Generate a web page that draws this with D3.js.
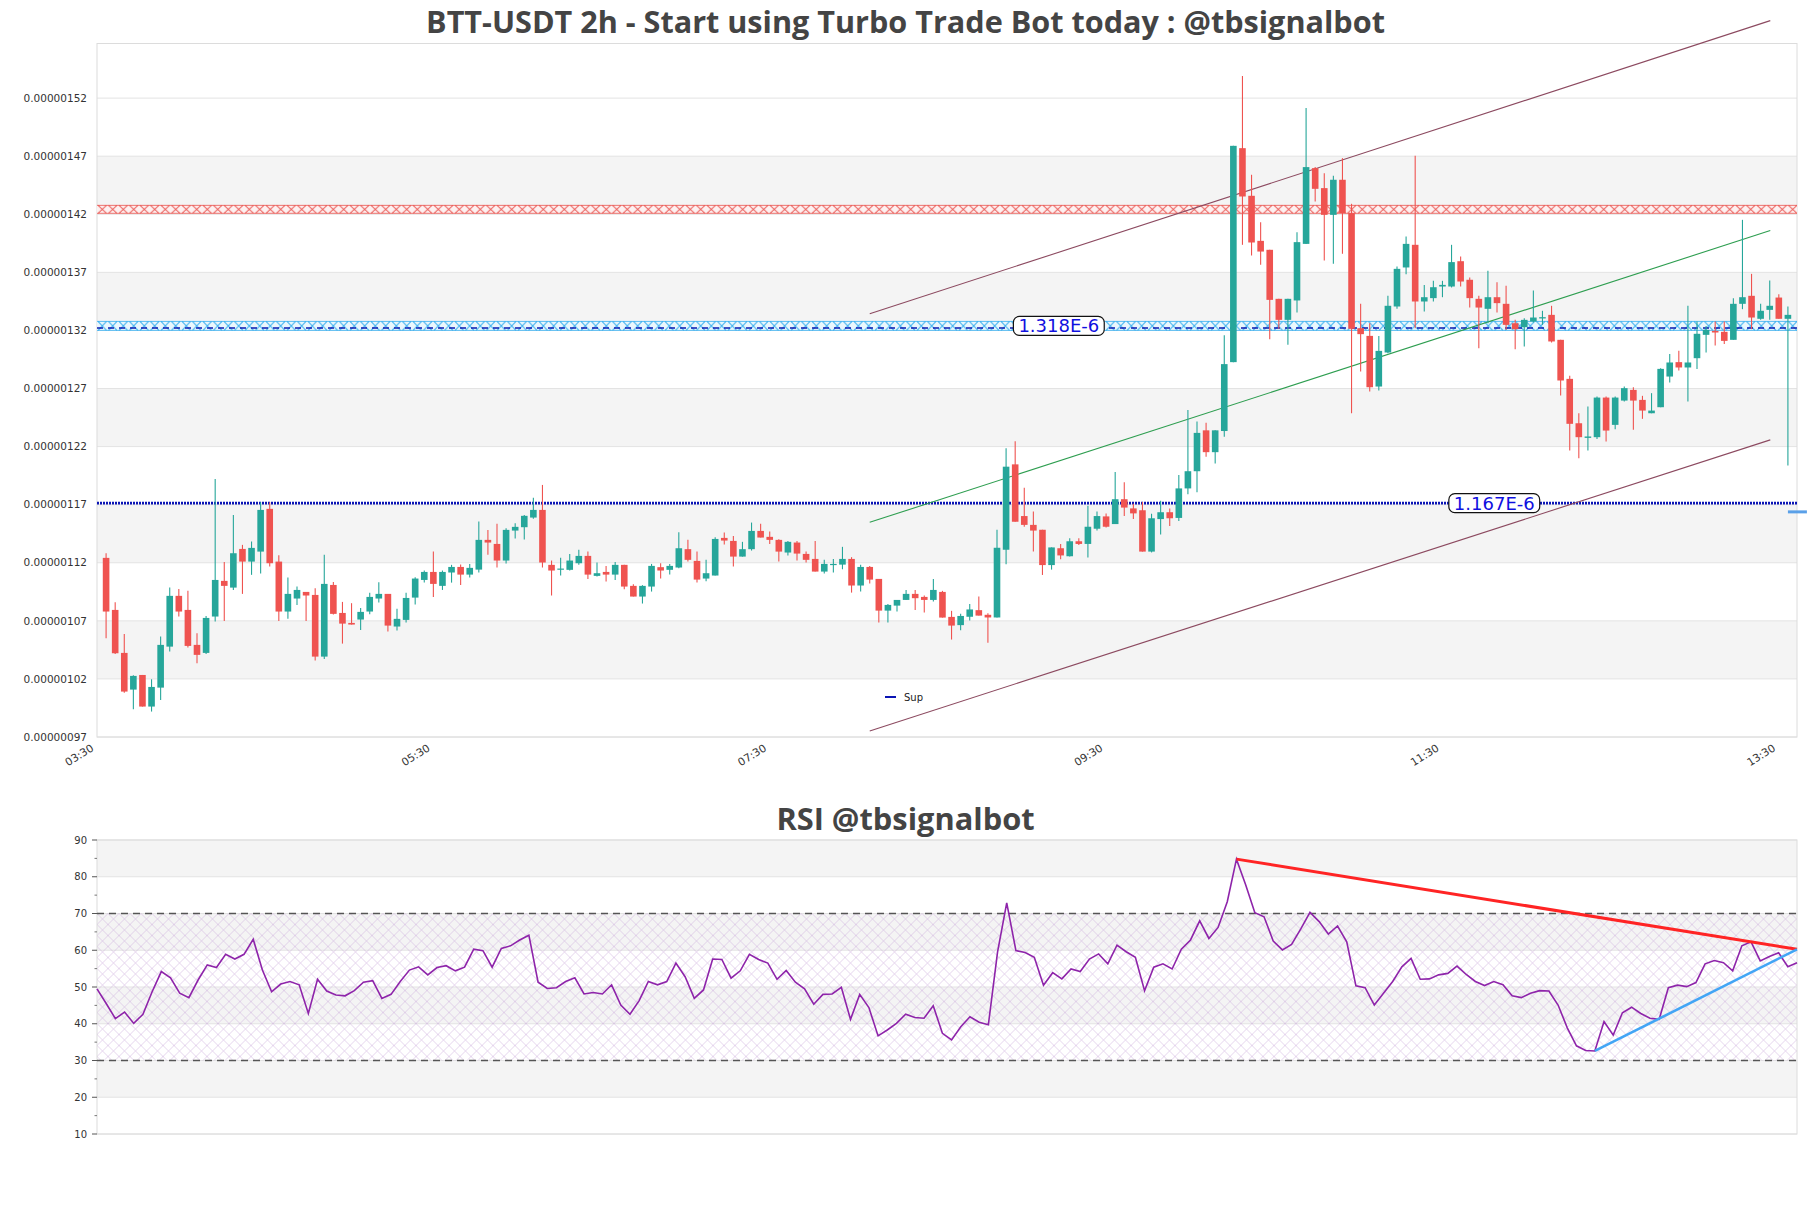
<!DOCTYPE html>
<html><head><meta charset="utf-8">
<script src="https://cdn.jsdelivr.net/npm/d3@7"></script>
<style>
body{margin:0;background:#fff}
svg{display:block}
</style>
</head><body>
<svg id="c" width="1811" height="1208"></svg>
<script>
// ---------------- DATA ----------------
const UNIT = 1e-9; // candle values are stored in units of 1e-9 USDT
const opens = [1124.2,1079.4,1042.4,1010.8,1023.4,996.2,1012.5,1047.8,1091.5,1079.4,1049.3,1042.4,1073.7,1104.4,1098.6,1131.9,1121.0,1129.6,1166.4,1121.0,1078.0,1089.2,1094.9,1092.3,1039.2,1100.9,1076.8,1068.2,1071.1,1078.0,1089.2,1093.2,1065.1,1070.8,1090.0,1105.2,1112.1,1100.1,1111.6,1116.4,1109.8,1114.1,1139.7,1136.2,1121.9,1147.7,1150.6,1158.9,1165.5,1118.2,1114.1,1113.9,1119.6,1125.9,1108.7,1112.1,1109.8,1118.2,1100.1,1090.9,1099.5,1116.2,1113.9,1115.9,1131.7,1121.6,1106.4,1109.0,1141.4,1138.8,1125.3,1131.7,1147.4,1142.3,1139.7,1128.8,1137.4,1127.6,1123.3,1112.4,1118.4,1118.4,1123.3,1100.4,1116.4,1106.1,1078.8,1083.1,1088.0,1093.2,1090.6,1088.0,1094.9,1073.4,1066.3,1073.5,1079.2,1075.2,1072.9,1131.2,1204.7,1160.2,1152.6,1148.4,1118.0,1132.5,1125.6,1138.5,1136.2,1149.3,1159.9,1153.3,1174.7,1166.8,1165.2,1129.6,1157.6,1163.5,1158.6,1184.0,1198.8,1234.0,1215.2,1233.4,1292.7,1476.9,1435.9,1397.1,1389.4,1347.2,1329.1,1345.8,1394.5,1459.7,1442.5,1419.5,1449.7,1421.0,1321.9,1315.3,1271.7,1301.0,1340.6,1374.2,1393.7,1344.9,1347.8,1357.8,1357.8,1379.6,1363.6,1347.2,1338.6,1348.6,1342.9,1326.2,1322.8,1327.7,1330.3,1333.4,1311.9,1278.3,1240.1,1227.5,1228.1,1262.2,1238.7,1259.6,1268.8,1260.2,1248.7,1253.9,1280.3,1292.7,1288.1,1296.1,1316.2,1319.6,1318.8,1311.9,1342.9,1349.8,1330.0,1337.7,1348.3,1330.0];
const highs = [1128.2,1086.0,1058.7,1023.2,1023.4,1019.7,1056.5,1098.6,1097.5,1095.8,1059.3,1074.2,1192.2,1120.7,1161.2,1135.4,1138.3,1172.1,1172.1,1126.5,1107.3,1099.5,1094.9,1098.1,1126.8,1103.5,1086.3,1085.2,1081.1,1094.1,1103.2,1093.2,1080.3,1094.1,1107.5,1113.3,1129.6,1113.3,1118.2,1118.4,1119.0,1155.5,1148.3,1153.5,1149.7,1154.0,1161.2,1175.9,1187.0,1121.9,1124.2,1127.6,1131.1,1129.6,1120.2,1117.3,1120.7,1118.2,1101.5,1100.7,1119.0,1119.6,1119.0,1146.3,1139.7,1129.6,1122.5,1142.0,1146.0,1143.1,1138.0,1154.6,1153.5,1146.9,1140.3,1138.8,1138.8,1129.6,1138.8,1122.5,1123.3,1133.7,1124.8,1118.2,1117.3,1106.1,1084.6,1088.0,1096.6,1096.6,1091.8,1106.1,1095.8,1078.6,1076.2,1084.4,1091.0,1076.5,1148.4,1218.5,1224.5,1184.6,1164.2,1148.4,1133.2,1136.2,1141.1,1141.1,1169.1,1164.2,1162.5,1198.1,1189.2,1170.8,1172.4,1162.2,1173.4,1166.8,1195.5,1251.5,1241.6,1240.6,1234.0,1315.8,1478.9,1539.0,1454.0,1413.2,1389.4,1347.2,1347.2,1404.6,1511.4,1460.6,1455.4,1453.1,1468.3,1429.0,1342.9,1326.2,1315.3,1349.8,1375.0,1400.9,1470.3,1359.2,1362.7,1362.7,1393.7,1383.6,1365.6,1349.8,1371.3,1361.5,1358.4,1329.1,1330.5,1354.4,1336.9,1341.2,1311.9,1280.9,1248.7,1254.5,1263.1,1263.1,1263.1,1271.7,1271.1,1263.7,1266.0,1287.5,1299.8,1302.4,1341.2,1327.7,1323.9,1327.7,1327.7,1347.8,1415.2,1368.7,1342.9,1363.0,1351.2,1340.6];
const lows = [1055.0,1041.5,1008.2,993.9,996.2,991.9,1001.9,1043.5,1073.7,1047.0,1033.5,1041.5,1069.4,1069.9,1096.6,1093.2,1109.6,1110.7,1116.7,1069.9,1071.7,1083.7,1069.9,1035.8,1037.2,1075.4,1050.4,1066.8,1062.2,1075.7,1085.7,1060.8,1061.6,1068.5,1084.0,1102.9,1090.6,1096.6,1102.9,1100.9,1107.3,1111.6,1126.8,1115.9,1119.3,1140.8,1140.0,1157.8,1115.9,1091.8,1109.0,1113.3,1118.2,1106.1,1108.1,1103.8,1105.2,1097.2,1090.9,1084.9,1095.2,1106.4,1109.8,1115.3,1121.0,1102.9,1104.1,1109.0,1135.7,1116.7,1125.3,1130.5,1141.7,1136.2,1121.0,1126.2,1121.9,1120.2,1112.4,1110.7,1111.6,1114.4,1094.3,1095.2,1102.1,1068.5,1068.5,1078.0,1088.0,1079.4,1077.1,1086.6,1072.8,1053.9,1062.0,1070.2,1074.5,1051.2,1072.9,1118.7,1155.3,1151.0,1129.6,1109.5,1114.1,1123.0,1125.3,1135.2,1124.6,1147.7,1150.3,1153.3,1160.2,1157.6,1129.6,1128.9,1144.4,1151.6,1155.9,1179.0,1180.6,1211.3,1205.4,1228.4,1292.7,1393.7,1384.5,1376.5,1312.5,1321.4,1307.6,1335.4,1394.5,1431.0,1380.3,1377.4,1386.0,1248.7,1284.6,1267.4,1268.3,1300.4,1338.6,1368.4,1321.9,1336.3,1344.9,1348.6,1357.0,1357.8,1339.7,1304.7,1326.2,1335.4,1320.5,1303.9,1306.1,1326.8,1324.8,1309.6,1264.0,1216.6,1210.0,1216.6,1226.6,1224.4,1235.0,1258.8,1234.4,1243.9,1248.7,1253.9,1275.2,1285.5,1258.8,1286.9,1301.0,1307.0,1308.4,1311.9,1338.3,1321.1,1329.1,1329.1,1330.0,1203.7];
const closes = [1078.0,1042.1,1009.1,1022.6,996.2,1013.1,1049.3,1091.5,1078.0,1048.4,1040.7,1072.5,1105.2,1100.1,1128.2,1121.0,1132.8,1165.5,1119.6,1078.0,1093.2,1096.6,1091.8,1039.2,1101.8,1076.0,1067.6,1066.8,1077.7,1090.6,1093.2,1065.9,1071.7,1089.7,1106.4,1112.1,1101.8,1112.1,1116.4,1109.8,1115.6,1139.7,1137.4,1121.9,1148.3,1150.9,1160.4,1165.5,1120.2,1113.3,1115.0,1121.9,1125.9,1109.8,1111.0,1109.8,1118.2,1099.5,1090.9,1100.1,1117.3,1113.3,1117.3,1132.5,1122.5,1105.5,1111.0,1140.5,1139.1,1125.3,1131.7,1147.4,1141.7,1139.7,1129.6,1138.0,1127.9,1122.5,1112.4,1119.0,1119.0,1123.3,1100.4,1116.4,1105.5,1078.8,1083.7,1088.0,1093.2,1089.5,1088.0,1096.6,1072.8,1065.9,1074.2,1079.8,1074.5,1072.9,1132.9,1202.7,1155.3,1152.6,1147.7,1118.0,1133.2,1126.3,1138.5,1136.2,1151.0,1160.2,1151.0,1174.7,1167.5,1162.5,1129.6,1158.3,1163.5,1158.3,1184.0,1198.8,1231.8,1215.2,1234.0,1291.0,1478.9,1435.3,1395.7,1387.9,1346.3,1329.1,1347.2,1396.0,1460.6,1441.9,1419.5,1449.7,1421.0,1321.4,1316.8,1271.1,1302.4,1341.2,1373.0,1394.5,1344.9,1348.6,1357.2,1359.2,1378.8,1362.1,1347.8,1339.7,1348.6,1343.5,1324.8,1321.1,1329.1,1331.1,1331.4,1310.5,1276.9,1239.6,1228.1,1228.7,1262.2,1233.8,1262.2,1270.3,1259.6,1251.0,1251.0,1286.9,1292.4,1288.1,1292.4,1317.1,1320.5,1318.2,1311.0,1342.9,1348.6,1331.1,1336.9,1341.2,1330.0,1333.4];

const rsiValues = [49.5,45.5,41.4,43.2,40.1,42.6,48.7,54.2,52.5,48.3,
47.1,51.9,56.0,55.3,58.9,57.6,58.9,63.0,54.6,48.7,
50.8,51.5,50.6,42.8,52.1,48.9,47.8,47.6,49.0,51.3,
51.7,46.9,48.0,51.5,54.6,55.5,53.3,55.3,55.8,54.4,
55.4,60.3,59.9,55.4,60.5,61.2,62.8,64.1,51.3,49.6,
49.8,51.5,52.5,48.1,48.5,48.1,50.6,45.1,42.6,46.3,
51.5,50.6,51.5,56.5,52.8,46.9,49.2,57.6,57.5,52.4,
54.4,58.9,57.5,56.5,52.1,54.5,51.3,49.5,45.3,48.0,
48.1,49.9,41.2,48.0,44.4,36.7,38.3,40.1,42.6,41.7,
41.5,44.9,37.4,35.6,39.2,41.9,40.4,39.7,59.5,72.9,
59.9,59.4,58.1,50.5,53.9,52.2,54.9,54.2,57.6,59.0,
56.3,61.4,59.6,58.1,49.0,55.4,56.3,54.9,60.3,62.8,
68.0,63.2,66.2,73.2,84.8,77.8,70.2,69.1,62.5,60.1,
61.6,65.8,70.3,67.8,64.4,66.6,62.3,50.3,49.8,45.1,
48.3,51.5,55.5,57.8,52.1,52.2,53.3,53.7,55.7,53.4,
51.5,50.4,51.5,50.6,47.6,47.1,48.3,49.0,48.9,45.1,
38.9,34.0,32.7,32.6,40.6,36.9,43.0,44.5,42.8,41.5,
41.2,49.8,50.5,50.1,51.2,56.3,57.2,56.6,54.4,61.2,
62.3,57.1,58.3,59.3,55.5,56.6];

const priceDomain = [0.00000097, 0.000001567];
const priceTicks = [0.00000097,0.00000102,0.00000107,0.00000112,0.00000117,0.00000122,0.00000127,0.00000132,0.00000137,0.00000142,0.00000147,0.00000152];
const priceBands = [[0.00000102,0.00000107],[0.00000112,0.00000117],[0.00000122,0.00000127],[0.00000132,0.00000137],[0.00000142,0.00000147]];
const timeDomain = ["03:30:00","13:36:30"];
const timeTicks = ["03:30:00","05:30:00","07:30:00","09:30:00","11:30:00","13:30:00"];

const rsiDomain = [10, 90];
const rsiTicks = [10,20,30,40,50,60,70,80,90];
const rsiMinorTicks = [15,25,35,45,55,65,75,85];
const rsiBands = [[20,30],[40,50],[60,70],[80,90]];
const rsiLevels = [30, 70];

// levels (units of 1e-9)
const resistanceZone = [1420.4, 1428.1];
const pivotZone = [1319.6, 1328.2];
const pivotDashed = 1322.0;
const pivotLabel = {text: "1.318E-6", at: 104.8};
const supportLevel = 1171.3;
const supportLabel = {text: "1.167E-6", at: 152.7};
const lastMarker = 1163.8;

// regression channel (index, value in 1e-9)
const channelIdx = [84, 183.06];
const channelUpper = [1334.3, 1586.7];
const channelMid = [1154.8, 1406.0];
const channelLower = [975.2, 1225.8];

// RSI trend lines [index, rsi]
const rsiResistance = [[124, 84.8], [185, 60.25]];
const rsiSupport = [[163, 32.6], [185, 60.25]];

const titleMain = "BTT-USDT 2h - Start using Turbo Trade Bot today : @tbsignalbot";
const titleRsi = "RSI @tbsignalbot";
const legendLabel = "Sup";

// ---------------- LAYOUT ----------------
const L = 97, Rr = 1797;
const mainTop = 43.5, mainBot = 737;
const rsiTop = 840, rsiBot = 1134;
const UP = "#26a69a", DOWN = "#ef5350";
const FONT = "'DejaVu Sans', sans-serif";
const TFONT = "'Open Sans', sans-serif";

const svg = d3.select("#c");
const defs = svg.append("defs");

const n = closes.length;
const xIdx = d3.scaleLinear().domain([-1, n]).range([L, Rr]);
const parseT = d3.timeParse("%H:%M:%S");
const xTime = d3.scaleTime().domain(timeDomain.map(parseT)).range([L, Rr]);
const y = d3.scaleLinear().domain(priceDomain).range([mainBot, mainTop]);
const yu = v => y(v * UNIT);

const xR = d3.scaleLinear().domain([0, rsiValues.length - 1]).range([L, Rr]);
const yR = d3.scaleLinear().domain(rsiDomain).range([rsiBot, rsiTop]);

// titles
svg.append("text").attr("x", 905.5).attr("y", 33).attr("text-anchor", "middle")
  .style("font-family", TFONT).style("font-weight", "700").style("font-size", "30.6px")
  .attr("fill", "#444").text(titleMain);
svg.append("text").attr("x", 905.5).attr("y", 830).attr("text-anchor", "middle")
  .style("font-family", TFONT).style("font-weight", "700").style("font-size", "30.8px")
  .attr("fill", "#444").text(titleRsi);

// ---------------- MAIN PANEL ----------------
const gM = svg.append("g");
gM.selectAll("rect.band").data(priceBands).join("rect")
  .attr("x", L).attr("width", Rr - L)
  .attr("y", d => y(d[1])).attr("height", d => y(d[0]) - y(d[1]))
  .attr("fill", "#f4f4f4");
gM.selectAll("line.grid").data(priceTicks).join("line")
  .attr("x1", L).attr("x2", Rr).attr("y1", d => y(d)).attr("y2", d => y(d))
  .attr("stroke", "#e3e3e3").attr("stroke-width", 1);
gM.append("rect").attr("x", L).attr("y", mainTop).attr("width", Rr - L).attr("height", mainBot - mainTop)
  .attr("fill", "none").attr("stroke", "#dcdcdc");

// y labels
gM.selectAll("text.yl").data(priceTicks).join("text")
  .attr("x", 87).attr("y", d => y(d)).attr("dy", "0.35em").attr("text-anchor", "end")
  .style("font-family", FONT).style("font-size", "10.5px").attr("fill", "#333")
  .text(d => d3.format(".8f")(d));

// x axis
const xAxis = d3.axisBottom(xTime).tickValues(timeTicks.map(parseT))
  .tickFormat(d3.timeFormat("%H:%M")).tickSize(0);
const gx = gM.append("g").attr("transform", `translate(0,${mainBot})`).call(xAxis);
gx.select(".domain").remove();
gx.selectAll("text")
  .style("font-family", FONT).style("font-size", "10.8px").attr("fill", "#333")
  .attr("text-anchor", "end").attr("dy", null).attr("y", 0)
  .attr("transform", "translate(-3,13) rotate(-32)");

// zone patterns
function zonePattern(id, zone, stroke, fill) {
  const yt = yu(zone[1]), yb = yu(zone[0]);
  const h = yb - yt, w = 10.5;
  const p = defs.append("pattern").attr("id", id).attr("patternUnits", "userSpaceOnUse")
    .attr("x", L).attr("y", yt).attr("width", w).attr("height", h);
  p.append("rect").attr("width", w).attr("height", h).attr("fill", fill);
  p.append("path")
    .attr("d", `M0,0.5H${w}M0,${h-0.5}H${w}`)
    .attr("stroke", stroke).attr("stroke-width", 0.7).attr("fill", "none");
  p.append("path")
    .attr("d", `M1,0.5L${w-1},${h-0.5}M${w-1},0.5L1,${h-0.5}`)
    .attr("stroke", stroke).attr("stroke-width", 1).attr("fill", "none");
  gM.append("rect").attr("x", L).attr("width", Rr - L).attr("y", yt).attr("height", h)
    .attr("fill", `url(#${id})`);
}
zonePattern("resZone", resistanceZone, "#e8413c", "#fdf0f0");
zonePattern("pivZone", pivotZone, "#22a6ee", "#eaf7fd");
gM.append("line").attr("x1", L).attr("x2", Rr)
  .attr("y1", yu(pivotDashed)).attr("y2", yu(pivotDashed))
  .attr("stroke", "#0a1ab0").attr("stroke-width", 1.5).attr("stroke-dasharray", "6,5");

// support dotted line
gM.append("line").attr("x1", L).attr("x2", Rr)
  .attr("y1", yu(supportLevel)).attr("y2", yu(supportLevel))
  .attr("stroke", "#0a14b4").attr("stroke-width", 2.6).attr("stroke-dasharray", "2,1");

// channel
[[channelUpper, "#8c4a60"], [channelLower, "#8c4a60"], [channelMid, "#2e9e50"]].forEach(([c, col]) => {
  gM.append("line")
    .attr("x1", xIdx(channelIdx[0])).attr("y1", yu(c[0]))
    .attr("x2", xIdx(channelIdx[1])).attr("y2", yu(c[1]))
    .attr("stroke", col).attr("stroke-width", 1.1);
});

// candles
const idx = d3.range(n);
const bw = 6.6;
const gC = gM.append("g");
gC.selectAll("line.wick").data(idx).join("line")
  .attr("x1", i => xIdx(i)).attr("x2", i => xIdx(i))
  .attr("y1", i => yu(highs[i])).attr("y2", i => yu(lows[i]))
  .attr("stroke", i => closes[i] >= opens[i] ? UP : DOWN).attr("stroke-width", 1.1);
gC.selectAll("rect.body").data(idx).join("rect")
  .attr("x", i => xIdx(i) - bw / 2).attr("width", bw)
  .attr("y", i => yu(Math.max(opens[i], closes[i])))
  .attr("height", i => Math.max(1.2, Math.abs(yu(opens[i]) - yu(closes[i]))))
  .attr("fill", i => closes[i] >= opens[i] ? UP : DOWN);

// last marker
gM.append("line").attr("x1", xIdx(n - 1)).attr("x2", xIdx(n - 1) + 19)
  .attr("y1", yu(lastMarker)).attr("y2", yu(lastMarker))
  .attr("stroke", "#5aa0e8").attr("stroke-width", 3);

// labels
function levelLabel(lbl, value) {
  const g = gM.append("g").attr("transform", `translate(${xIdx(lbl.at)},${yu(value)})`);
  const r = g.append("rect");
  const t = g.append("text").attr("text-anchor", "middle").attr("dy", "0.36em")
    .style("font-family", FONT).style("font-size", "18px").attr("fill", "#1010e0").text(lbl.text);
  const w = t.node().getComputedTextLength() + 10;
  r.attr("x", -w / 2).attr("y", -9.5).attr("width", w).attr("height", 19).attr("rx", 6)
    .attr("fill", "#fff").attr("stroke", "#111").attr("stroke-width", 1.2);
}
levelLabel(pivotLabel, (pivotZone[0] + pivotZone[1]) / 2);
levelLabel(supportLabel, supportLevel);

// legend
gM.append("line").attr("x1", 885).attr("x2", 896).attr("y1", 697).attr("y2", 697)
  .attr("stroke", "#0a14b4").attr("stroke-width", 2);
gM.append("text").attr("x", 904).attr("y", 697).attr("dy", "0.35em")
  .style("font-family", FONT).style("font-size", "10px").attr("fill", "#222").text(legendLabel);

// ---------------- RSI PANEL ----------------
const gR = svg.append("g");
gR.selectAll("rect.band").data(rsiBands).join("rect")
  .attr("x", L).attr("width", Rr - L)
  .attr("y", d => yR(d[1])).attr("height", d => yR(d[0]) - yR(d[1]))
  .attr("fill", "#f4f4f4");
gR.selectAll("line.grid").data(rsiTicks).join("line")
  .attr("x1", L).attr("x2", Rr).attr("y1", d => yR(d)).attr("y2", d => yR(d))
  .attr("stroke", "#e3e3e3");

const hp = defs.append("pattern").attr("id", "rsiHatch").attr("patternUnits", "userSpaceOnUse")
  .attr("x", L).attr("y", yR(rsiLevels[1])).attr("width", 11).attr("height", 11);
hp.append("path").attr("d", "M0,0L11,11M11,0L0,11")
  .attr("stroke", "#c7a3d9").attr("stroke-width", 0.6).attr("stroke-opacity", 0.75);
gR.append("rect").attr("x", L).attr("width", Rr - L)
  .attr("y", yR(rsiLevels[1])).attr("height", yR(rsiLevels[0]) - yR(rsiLevels[1]))
  .attr("fill", "url(#rsiHatch)");

gR.append("rect").attr("x", L).attr("y", rsiTop).attr("width", Rr - L).attr("height", rsiBot - rsiTop)
  .attr("fill", "none").attr("stroke", "#dcdcdc");

gR.selectAll("line.lvl").data(rsiLevels).join("line")
  .attr("x1", L).attr("x2", Rr).attr("y1", d => yR(d)).attr("y2", d => yR(d))
  .attr("stroke", "#555").attr("stroke-width", 1.3).attr("stroke-dasharray", "7,5");

// axis
gR.selectAll("text.yl").data(rsiTicks).join("text")
  .attr("x", 87).attr("y", d => yR(d)).attr("dy", "0.35em").attr("text-anchor", "end")
  .style("font-family", FONT).style("font-size", "10px").attr("fill", "#333").text(d => d);
gR.selectAll("line.tk").data(rsiTicks).join("line")
  .attr("x1", 92).attr("x2", L).attr("y1", d => yR(d)).attr("y2", d => yR(d))
  .attr("stroke", "#555");
gR.selectAll("line.mtk").data(rsiMinorTicks).join("line")
  .attr("x1", 94.5).attr("x2", L).attr("y1", d => yR(d)).attr("y2", d => yR(d))
  .attr("stroke", "#777");

// RSI line
gR.append("path").datum(rsiValues)
  .attr("d", d3.line().x((d, i) => xR(i)).y(d => yR(d)))
  .attr("fill", "none").attr("stroke", "#8e24aa").attr("stroke-width", 1.6);

// trend lines
gR.append("line").attr("x1", xR(rsiResistance[0][0])).attr("y1", yR(rsiResistance[0][1]))
  .attr("x2", xR(rsiResistance[1][0])).attr("y2", yR(rsiResistance[1][1]))
  .attr("stroke", "#ff2424").attr("stroke-width", 3);
gR.append("line").attr("x1", xR(rsiSupport[0][0])).attr("y1", yR(rsiSupport[0][1]))
  .attr("x2", xR(rsiSupport[1][0])).attr("y2", yR(rsiSupport[1][1]))
  .attr("stroke", "#42a5f5").attr("stroke-width", 2.6);
</script>
</body></html>
